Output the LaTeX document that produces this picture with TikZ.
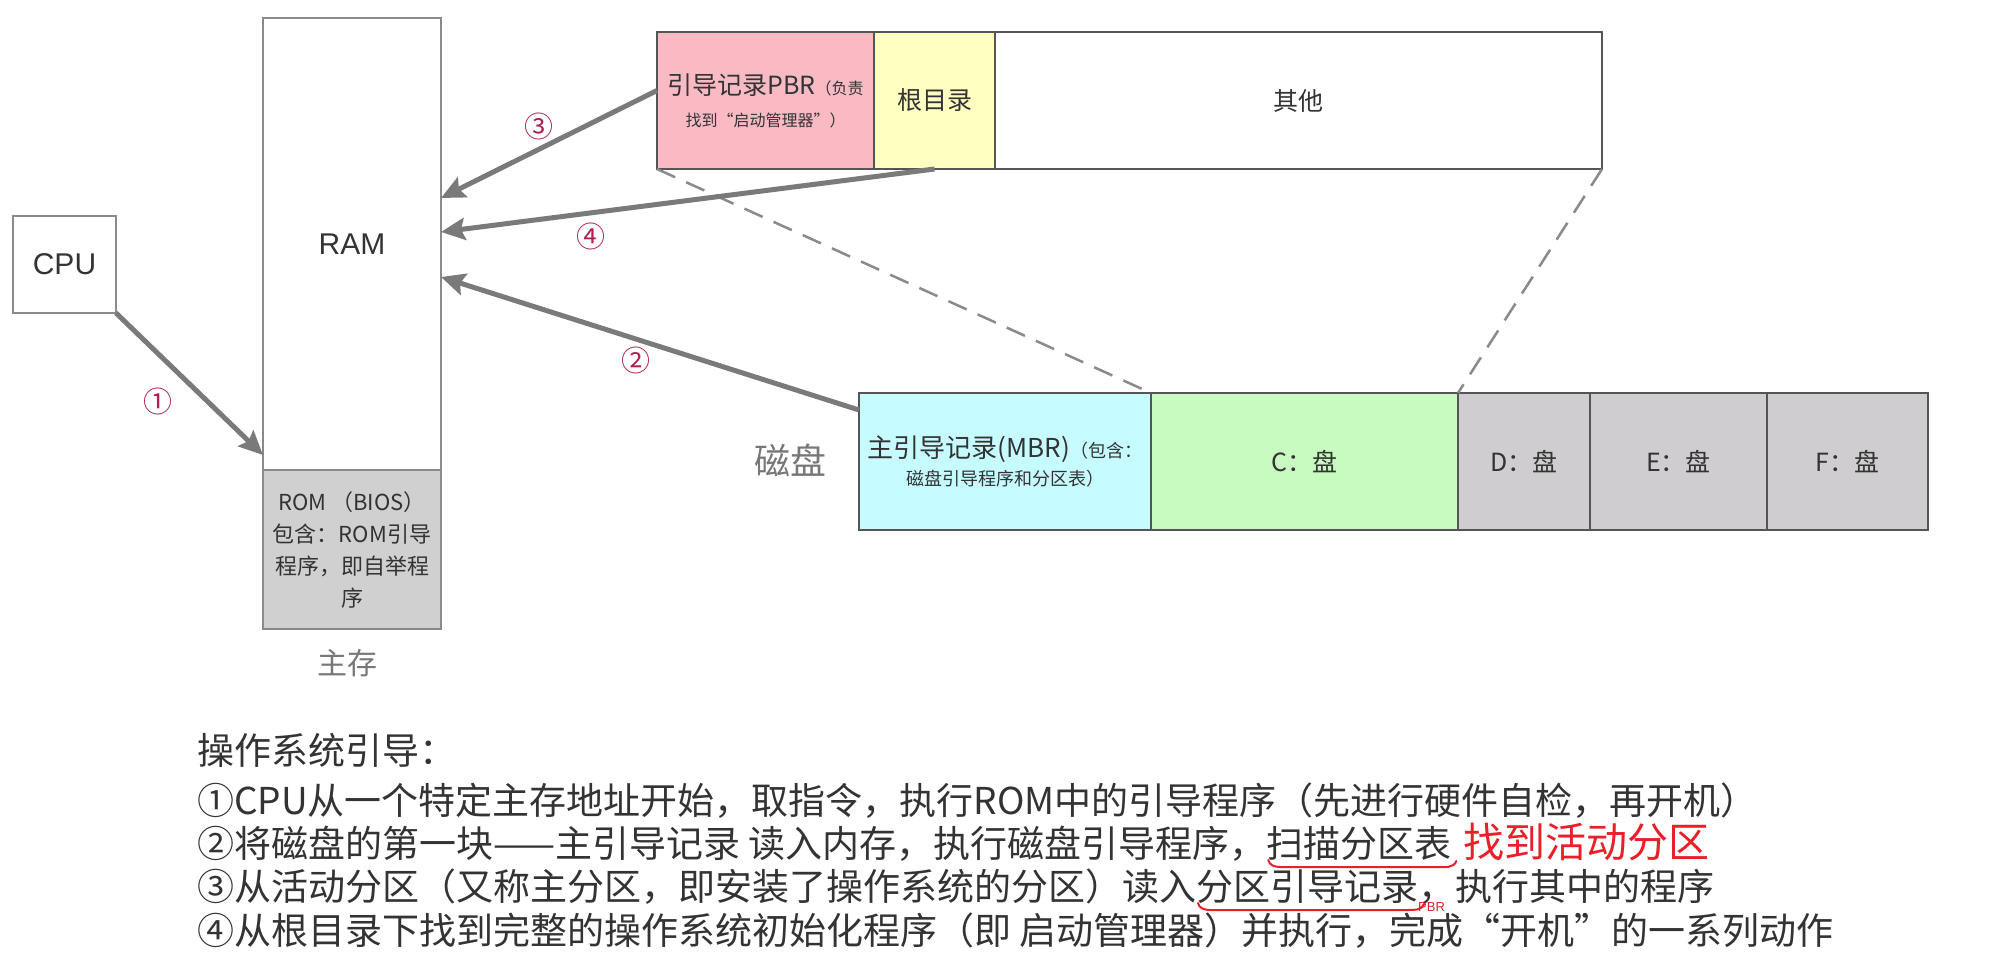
\documentclass[tikz,border=0pt]{standalone}
\usepackage{fontspec}
\setmainfont{Noto Sans CJK SC}
\newfontfamily\lat{Liberation Sans}
\usetikzlibrary{arrows.meta,calc}
\definecolor{pinkf}{HTML}{F9BAC4}
\definecolor{yellowf}{HTML}{FFFFC2}
\definecolor{cyanf}{HTML}{C6FBFF}
\definecolor{greenf}{HTML}{C8FBC0}
\definecolor{greyf}{HTML}{CFCDD0}
\definecolor{romf}{HTML}{D0D0D0}
\definecolor{numc}{HTML}{B02050}
\definecolor{arrc}{HTML}{7A7A7A}
\definecolor{txtc}{HTML}{333333}
\definecolor{redc}{HTML}{E8202A}
\definecolor{lblc}{HTML}{777777}
\definecolor{edgec}{HTML}{8A8A8A}
\definecolor{dedgec}{HTML}{555555}
\begin{document}
\begin{tikzpicture}[x=1pt,y=-1pt,
  blk/.style={rectangle, inner sep=0pt, outer sep=0pt, line width=2pt, anchor=north west, text=txtc, align=center},
  lbl/.style={text=lblc, inner sep=0pt},
  num/.style={text=numc, inner sep=0pt, font=\fontsize{29}{29}\selectfont},
  arr/.style={draw=arrc, line width=5pt, -{Stealth[length=24pt,width=22pt,inset=4pt]}},
  dsh/.style={draw=edgec, line width=2.5pt, dash pattern=on 20pt off 12pt},
  txt/.style={font=\fontsize{37}{44}\selectfont, text=txtc, inner sep=0pt, outer sep=0pt, anchor=base west},
  redtxt/.style={font=\fontsize{41}{44}\selectfont, text=redc, inner sep=0pt, outer sep=0pt, anchor=base west},
  uline/.style={draw=redc, line width=2pt, line cap=round}
]
\useasboundingbox (0,0) rectangle (1992,971);

% CPU and main memory
\node[blk, draw=edgec, minimum width=103, minimum height=97, font=\lat\fontsize{30}{36}\selectfont] (cpu) at (13,216) {CPU};
\node[blk, draw=edgec, minimum width=178, minimum height=452, font=\lat\fontsize{30}{36}\selectfont] (ram) at (263,18) {RAM};
\node[blk, draw=edgec, fill=romf, minimum width=178, minimum height=159, font=\fontsize{22}{32}\selectfont] (rom) at (263,470) {ROM （BIOS）\\包含：ROM引导\\程序，即自举程\\序};
\node[lbl, font=\fontsize{30}{30}\selectfont] (mainmem) at (347,663) {主存};

% partition layout
\node[blk, draw=dedgec, fill=pinkf, minimum width=217, minimum height=137, font=\fontsize{16}{32}\selectfont] (pbr) at (657,32)
  {{\fontsize{25}{30}\selectfont 引导记录PBR}（负责\\找到“启动管理器”）};
\node[blk, draw=dedgec, fill=yellowf, minimum width=121, minimum height=137, font=\fontsize{25}{30}\selectfont] (rootdir) at (874,32) {根目录};
\node[blk, draw=dedgec, fill=white, minimum width=607, minimum height=137, font=\fontsize{25}{30}\selectfont] (other) at (995,32) {其他};

% disk layout
\node[blk, draw=dedgec, fill=cyanf, minimum width=292, minimum height=137, font=\fontsize{18}{28}\selectfont] (mbr) at (859,393)
  {{\fontsize{26}{30}\selectfont 主引导记录(MBR)}（包含：\\磁盘引导程序和分区表）};
\node[blk, draw=dedgec, fill=greenf, minimum width=307, minimum height=137, font=\fontsize{25}{30}\selectfont] (cdisk) at (1151,393) {C：盘};
\node[blk, draw=dedgec, fill=greyf, minimum width=132, minimum height=137, font=\fontsize{25}{30}\selectfont] (ddisk) at (1458,393) {D：盘};
\node[blk, draw=dedgec, fill=greyf, minimum width=177, minimum height=137, font=\fontsize{25}{30}\selectfont] (edisk) at (1590,393) {E：盘};
\node[blk, draw=dedgec, fill=greyf, minimum width=161, minimum height=137, font=\fontsize{25}{30}\selectfont] (fdisk) at (1767,393) {F：盘};
\node[lbl, font=\fontsize{36}{36}\selectfont] (disklbl) at (790,460) {磁盘};

% dashed zoom lines
\draw[dsh] (pbr.south west) -- (cdisk.north west);
\draw[dsh] (other.south east) -- (cdisk.north east);

% arrows
\draw[arr] (cpu.south east) -- ([yshift=15pt]ram.south west);
\draw[arr] ([yshift=-17pt]mbr.north west) -- ([yshift=-33pt]ram.east);
\draw[arr] ([yshift=10pt]pbr.west) -- ([yshift=46pt]ram.east);
\draw[arr] (rootdir.south) -- ([yshift=12pt]ram.east);

\node[num] (n1) at (158,401) {①};
\node[num] (n2) at (636,360) {②};
\node[num] (n3) at (539,126) {③};
\node[num] (n4) at (591,236) {④};

% explanation text
\node[txt] (l0) at (197,764) {操作系统引导：};
\node[txt] (l1) at (197,814) {①CPU从一个特定主存地址开始，取指令，执行ROM中的引导程序（先进行硬件自检，再开机）};
\node[txt] (l2a) at (197,857) {②将磁盘的第一块——主引导记录 读入内存，执行磁盘引导程序，};
\node[txt] (l2b) at (l2a.base east) {扫描分区表};
\node[redtxt] (l2c) at ([xshift=12pt]l2b.base east) {找到活动分区};
\node[txt] (l3a) at (197,900) {③从活动分区（又称主分区，即安装了操作系统的分区）读入};
\node[txt] (l3b) at (l3a.base east) {分区引导记录};
\node[txt] (l3c) at (l3b.base east) {，执行其中的程序};
\node[anchor=base west, inner sep=0pt, text=redc, font=\lat\fontsize{13}{13}\selectfont] (pbrsub) at ([shift={(0pt,-11pt)}]l3b.base east) {PBR};
\node[txt] (l4) at (197,944) {④从根目录下找到完整的操作系统初始化程序（即 启动管理器）并执行，完成“开机”的一系列动作};

% hand-drawn underlines
\draw[uline] ([shift={(2pt,-3pt)}]l2b.base west) to[out=-80,in=180] ([shift={(14pt,-10pt)}]l2b.base west)
  -- ([shift={(-14pt,-10pt)}]l2b.base east) to[out=0,in=-110] ([shift={(5pt,-4pt)}]l2b.base east);
\draw[uline] ([shift={(2pt,-3pt)}]l3b.base west) to[out=-80,in=180] ([shift={(14pt,-10pt)}]l3b.base west)
  -- ([shift={(-10pt,-10pt)}]l3b.base east) to[out=0,in=-110] ([shift={(6pt,-4pt)}]l3b.base east);
\end{tikzpicture}
\end{document}
